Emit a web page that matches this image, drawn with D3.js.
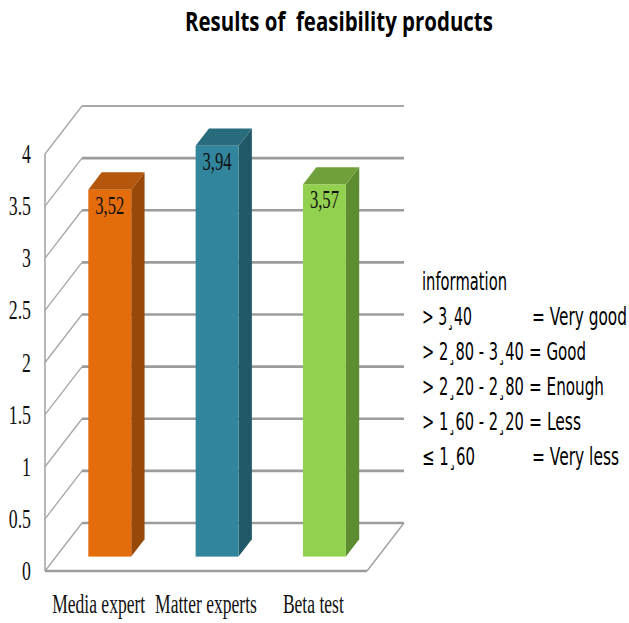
<!DOCTYPE html>
<html>
<head>
<meta charset="utf-8">
<script src="https://cdn.jsdelivr.net/npm/d3@7/dist/d3.min.js"></script>
<style>
  html, body { margin: 0; padding: 0; background: #fff; }
  svg { display: block; }
  text { white-space: pre; }
</style>
</head>
<body>
<svg id="chart" width="629" height="623"></svg>
<script>
// ---- data ----
const categories = ["Media expert", "Matter experts", "Beta test"];
const scores = [3.52, 3.94, 3.57];
const scoreLabels = ["3,52", "3,94", "3,57"];
const yTicks = [0, 0.5, 1, 1.5, 2, 2.5, 3, 3.5, 4];
const yTickLabels = ["0", "0.5", "1", "1.5", "2", "2.5", "3", "3.5", "4"];
const legendTitle = "information";
const legendRanges = ["> 3¸40", "> 2¸80 - 3¸40", "> 2¸20 - 2¸80", "> 1¸60 - 2¸20", "≤ 1¸60"];
const legendGrades = ["= Very good", "= Good", "= Enough", "= Less", "= Very less"];
const titleText = "Results of  feasibility products";

// bar face colours: front, top, side
const faceFront = ["#e46c0a", "#31859c", "#92d050"];
const faceTop   = ["#b4560b", "#276b7c", "#6fa03b"];
const faceSide  = ["#984807", "#215968", "#5e8c31"];

// ---- layout ----
const svg = d3.select("#chart");
const plotLeft = 45, plotRight = 367, floorY = 571;
const depth = { dx: 37, dy: -48 };          // projection of the chart depth
const barD0 = 0.30, barD1 = 0.66;            // bar front/back depth fraction

const x = d3.scaleBand().domain(categories).range([plotLeft, plotRight])
  .paddingInner(0.6).paddingOuter(0.3);
const y = d3.scaleLinear().domain([0, 4]).range([floorY, 154]);

const px = (xv, d) => xv + d * depth.dx;
const py = (yv, d) => yv + d * depth.dy;

// text squeezed horizontally by a fixed factor
function squeezed(parent, str, tx, ty, sx, anchor) {
  const g = parent.append("g").attr("transform", `translate(${tx},${ty}) scale(${sx},1)`);
  g.append("text").attr("x", 0).attr("y", 0).attr("text-anchor", anchor).text(str);
  return g;
}
// text squeezed to a given width, starting at tx
function fitted(parent, str, tx, ty, width) {
  const g = parent.append("g");
  const t = g.append("text").attr("x", 0).attr("y", 0).text(str);
  const w = t.node().getComputedTextLength();
  g.attr("transform", `translate(${tx},${ty}) scale(${width / w},1)`);
  return g;
}

// ---- walls ----
const walls = svg.append("g");
// back-wall gridlines
walls.selectAll("line.grid").data(yTicks).join("line")
  .attr("class", "grid")
  .attr("x1", px(plotLeft, 1)).attr("x2", px(plotRight, 1))
  .attr("y1", d => py(y(d), 1)).attr("y2", d => py(y(d), 1))
  .attr("stroke", d => d === 4 ? "#a8a8a8" : "#9c9c9c")
  .attr("stroke-width", d => d === 4 ? 1.8 : 2.6);
// side-wall gridlines
walls.selectAll("line.side").data(yTicks).join("line")
  .attr("class", "side")
  .attr("x1", px(plotLeft, 0)).attr("x2", px(plotLeft, 1))
  .attr("y1", d => y(d)).attr("y2", d => py(y(d), 1))
  .attr("stroke", "#a6a6a6").attr("stroke-width", 1.3);
// side-wall front edge
walls.append("line")
  .attr("x1", plotLeft).attr("x2", plotLeft)
  .attr("y1", y(4)).attr("y2", y(0))
  .attr("stroke", "#a0a0a0").attr("stroke-width", 1.5);
// floor right edge
walls.append("line")
  .attr("x1", plotRight).attr("x2", px(plotRight, 1))
  .attr("y1", y(0)).attr("y2", py(y(0), 1))
  .attr("stroke", "#a0a0a0").attr("stroke-width", 1.4);

// ---- bars ----
const bars = svg.append("g");
categories.forEach((c, i) => {
  const xl = x(c), xr = x(c) + x.bandwidth();
  const yt = y(scores[i]), yb = y(0);
  // side face
  bars.append("polygon")
    .attr("points", [
      [px(xr, barD0), py(yt, barD0)], [px(xr, barD1), py(yt, barD1)],
      [px(xr, barD1), py(yb, barD1)], [px(xr, barD0), py(yb, barD0)]
    ].join(" "))
    .attr("fill", faceSide[i]);
  // top face
  bars.append("polygon")
    .attr("points", [
      [px(xl, barD0), py(yt, barD0)], [px(xr, barD0), py(yt, barD0)],
      [px(xr, barD1), py(yt, barD1)], [px(xl, barD1), py(yt, barD1)]
    ].join(" "))
    .attr("fill", faceTop[i]);
  // front face
  bars.append("rect")
    .attr("x", px(xl, barD0)).attr("y", py(yt, barD0))
    .attr("width", x.bandwidth()).attr("height", yb - yt)
    .attr("fill", faceFront[i]);
});

// floor front edge
svg.append("line")
  .attr("x1", plotLeft).attr("x2", plotRight)
  .attr("y1", y(0)).attr("y2", y(0))
  .attr("stroke", "#9c9c9c").attr("stroke-width", 2.6);

// ---- value labels ----
const valG = svg.append("g")
  .attr("font-family", "'Liberation Serif', 'Times New Roman', serif")
  .attr("font-size", 26).attr("fill", "#111");
categories.forEach((c, i) => {
  const cx = px(x(c) + x.bandwidth() / 2, barD0);
  squeezed(valG, scoreLabels[i], cx, py(y(scores[i]), barD0) + 24, 0.64, "middle");
});

// ---- y axis labels ----
const yG = svg.append("g")
  .attr("font-family", "'Liberation Serif', 'Times New Roman', serif")
  .attr("font-size", 27).attr("fill", "#111");
yTicks.forEach((t, i) => {
  squeezed(yG, yTickLabels[i], 31, y(t) + 9, 0.66, "end");
});

// ---- x axis labels ----
const xG = svg.append("g")
  .attr("font-family", "'Liberation Serif', 'Times New Roman', serif")
  .attr("font-size", 27).attr("fill", "#111");
const step = x.step();
categories.forEach((c, i) => {
  squeezed(xG, c, plotLeft + step * (i + 0.5), 613, 0.65, "middle");
});

// ---- title ----
const titleG = svg.append("g")
  .attr("font-family", "'Open Sans', 'DejaVu Sans', sans-serif")
  .attr("font-weight", "bold").attr("font-size", 27).attr("fill", "#000");
fitted(titleG, titleText, 185, 31, 308);

// ---- grading notes ----
const legG = svg.append("g")
  .attr("font-family", "'DejaVu Sans', Verdana, sans-serif")
  .attr("font-size", 24).attr("fill", "#000");
const legX = 422, legBase = 290, legStep = 35;
const rangeWidths = [50, 102, 102, 102, 53];
const gradeX = [532, 529, 529, 529, 532];
const gradeWidths = [95, 57, 75, 52, 87];
fitted(legG, legendTitle, legX, legBase, 85);
legendRanges.forEach((r, i) => {
  const by = legBase + legStep * (i + 1);
  fitted(legG, r, legX, by, rangeWidths[i]);
  fitted(legG, legendGrades[i], gradeX[i], by, gradeWidths[i]);
});
</script>
</body>
</html>
